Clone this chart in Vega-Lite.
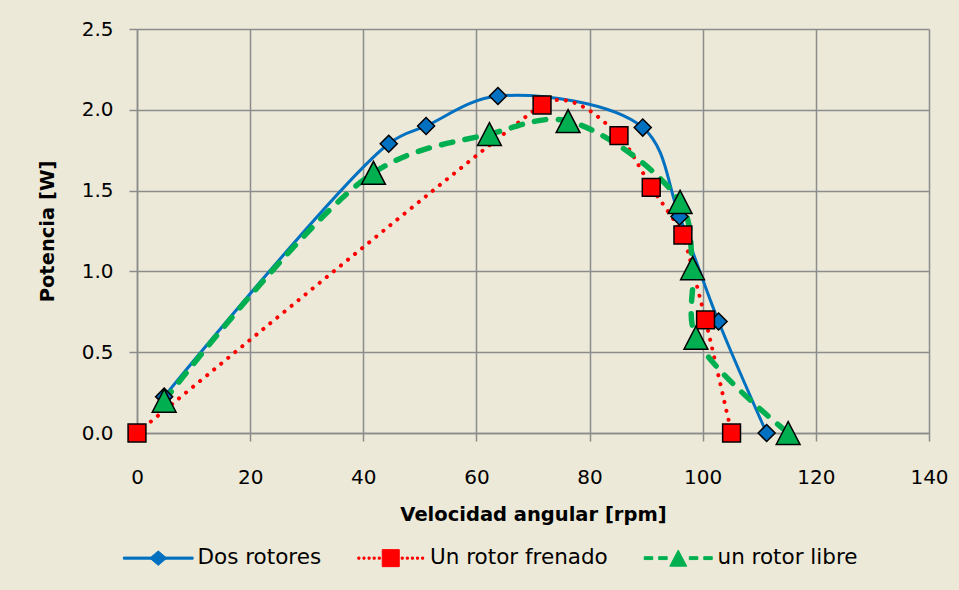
{
  "$schema": "https://vega.github.io/schema/vega-lite/v6.json",
  "width": 792,
  "height": 404,
  "autosize": "none",
  "padding": {"left": 137, "top": 29, "right": 30, "bottom": 157},
  "background": "#ECE9D8",
  "data": {
    "values": [
      {"series": "Dos rotores", "rpm": 4.8, "P": 0.225},
      {"series": "Dos rotores", "rpm": 44.5, "P": 1.79},
      {"series": "Dos rotores", "rpm": 51.1, "P": 1.9},
      {"series": "Dos rotores", "rpm": 63.8, "P": 2.085},
      {"series": "Dos rotores", "rpm": 89.4, "P": 1.89},
      {"series": "Dos rotores", "rpm": 95.9, "P": 1.34},
      {"series": "Dos rotores", "rpm": 102.8, "P": 0.69},
      {"series": "Dos rotores", "rpm": 111.3, "P": 0.0},
      {"series": "Un rotor frenado", "rpm": 0, "P": 0.0},
      {"series": "Un rotor frenado", "rpm": 71.6, "P": 2.03},
      {"series": "Un rotor frenado", "rpm": 85.2, "P": 1.84},
      {"series": "Un rotor frenado", "rpm": 90.9, "P": 1.52},
      {"series": "Un rotor frenado", "rpm": 96.5, "P": 1.225},
      {"series": "Un rotor frenado", "rpm": 100.5, "P": 0.7},
      {"series": "Un rotor frenado", "rpm": 105.1, "P": 0.0},
      {"series": "un rotor libre", "rpm": 4.8, "P": 0.2},
      {"series": "un rotor libre", "rpm": 41.8, "P": 1.61},
      {"series": "un rotor libre", "rpm": 62.3, "P": 1.85},
      {"series": "un rotor libre", "rpm": 76.2, "P": 1.93},
      {"series": "un rotor libre", "rpm": 96.0, "P": 1.43},
      {"series": "un rotor libre", "rpm": 98.2, "P": 1.02},
      {"series": "un rotor libre", "rpm": 98.8, "P": 0.59},
      {"series": "un rotor libre", "rpm": 115.1, "P": 0.0}
    ]
  },
  "encoding": {
    "x": {
      "field": "rpm", "type": "quantitative",
      "scale": {"domain": [0, 140], "nice": false, "zero": false},
      "axis": {
        "title": "Velocidad angular [rpm]",
        "values": [0, 20, 40, 60, 80, 100, 120, 140],
        "labelPadding": 26,
        "titlePadding": 18,
        "labelFlush": false,
        "labelOverlap": false
      }
    },
    "y": {
      "field": "P", "type": "quantitative",
      "scale": {"domain": [0, 2.5], "nice": false, "zero": false},
      "axis": {
        "title": "Potencia [W]",
        "values": [0, 0.5, 1, 1.5, 2, 2.5],
        "format": ".1f",
        "labelPadding": 16,
        "titlePadding": 24,
        "labelOverlap": false
      }
    }
  },
  "layer": [
    {
      "transform": [{"filter": "datum.series === 'Dos rotores'"}],
      "mark": {"type": "line", "interpolate": "catmull-rom", "strokeWidth": 3, "strokeCap": "round", "strokeJoin": "round"},
      "encoding": {
        "color": {
          "field": "series", "type": "nominal",
          "scale": {"domain": ["Dos rotores", "Un rotor frenado", "un rotor libre"], "range": ["#0070C0", "#FF0000", "#00B050"]},
          "legend": {
            "title": null,
            "orient": "none",
            "direction": "horizontal",
            "legendX": 10.5,
            "legendY": 518,
            "padding": 0,
            "symbolSize": 289,
            "labelOffset": 28.5,
            "columnPadding": 33.5,
            "labelFont": "DejaVu Sans",
            "labelFontSize": 21.5,
            "labelColor": "#000000",
            "labelLimit": 400,
            "encode": {
              "symbols": {
                "update": {
                  "shape": {"signal": "datum.value === 'Dos rotores' ? 'M-4.1,-0.12L4.1,-0.12L4.1,0.12L-4.1,0.12ZM0,-0.85L1,0L0,0.85L-1,0Z' : datum.value === 'Un rotor frenado' ? 'M-3.87,-0.12L-3.63,-0.12L-3.63,0.12L-3.87,0.12ZM-3.27,-0.12L-3.03,-0.12L-3.03,0.12L-3.27,0.12ZM-2.67,-0.12L-2.43,-0.12L-2.43,0.12L-2.67,0.12ZM-2.07,-0.12L-1.83,-0.12L-1.83,0.12L-2.07,0.12ZM-1.47,-0.12L-1.23,-0.12L-1.23,0.12L-1.47,0.12ZM1.23,-0.12L1.47,-0.12L1.47,0.12L1.23,0.12ZM1.83,-0.12L2.07,-0.12L2.07,0.12L1.83,0.12ZM2.43,-0.12L2.67,-0.12L2.67,0.12L2.43,0.12ZM3.03,-0.12L3.27,-0.12L3.27,0.12L3.03,0.12ZM3.63,-0.12L3.87,-0.12L3.87,0.12L3.63,0.12ZM-1,-1L1,-1L1,1L-1,1Z' : 'M-4,-0.17L-3,-0.17L-3,0.17L-4,0.17ZM-2.3,-0.17L-1.3,-0.17L-1.3,0.17L-2.3,0.17ZM1.3,-0.17L2.3,-0.17L2.3,0.17L1.3,0.17ZM3,-0.17L4,-0.17L4,0.17L3,0.17ZM0,-0.95L1,0.95L-1,0.95Z'"},
                  "fill": {"scale": "color", "field": "value"},
                  "stroke": {"scale": "color", "field": "value"},
                  "strokeWidth": {"value": 1},
                  "opacity": {"value": 1}
                }
              }
            }
          }
        }
      }
    },
    {
      "transform": [{"filter": "datum.series === 'Un rotor frenado'"}],
      "mark": {"type": "line", "interpolate": "cardinal", "tension": 0.6, "strokeWidth": 4, "strokeDash": [0.1, 9], "strokeCap": "round", "strokeJoin": "round"},
      "encoding": {
        "color": {
          "field": "series", "type": "nominal",
          "scale": {"domain": ["Dos rotores", "Un rotor frenado", "un rotor libre"], "range": ["#0070C0", "#FF0000", "#00B050"]}
        }
      }
    },
    {
      "transform": [{"filter": "datum.series === 'un rotor libre'"}],
      "mark": {"type": "line", "interpolate": "catmull-rom", "strokeWidth": 5.5, "strokeDash": [11.5, 12.5], "strokeCap": "round", "strokeJoin": "round"},
      "encoding": {
        "color": {
          "field": "series", "type": "nominal",
          "scale": {"domain": ["Dos rotores", "Un rotor frenado", "un rotor libre"], "range": ["#0070C0", "#FF0000", "#00B050"]}
        }
      }
    },
    {
      "transform": [{"filter": "datum.series === 'Dos rotores'"}],
      "mark": {"type": "point", "shape": "M0,-1L1,0L0,1L-1,0Z", "filled": true, "fill": "#0070C0", "stroke": "#000000", "strokeWidth": 1.5, "opacity": 1, "size": 289}
    },
    {
      "transform": [{"filter": "datum.series === 'Un rotor frenado'"}],
      "mark": {"type": "point", "shape": "M-1.05,-1.05L1.05,-1.05L1.05,1.05L-1.05,1.05Z", "filled": true, "fill": "#FF0000", "stroke": "#000000", "strokeWidth": 1.5, "opacity": 1, "size": 289}
    },
    {
      "transform": [{"filter": "datum.series === 'un rotor libre'"}],
      "mark": {"type": "point", "shape": "M0,-1.35L1.4,1.35L-1.4,1.35Z", "filled": true, "fill": "#00B050", "stroke": "#000000", "strokeWidth": 1.5, "opacity": 1, "size": 289}
    }
  ],
  "config": {
    "view": {"stroke": null},
    "font": "DejaVu Sans",
    "axis": {
      "labelFont": "DejaVu Sans",
      "labelFontSize": 20,
      "labelColor": "#000000",
      "titleFont": "DejaVu Sans",
      "titleFontSize": 19.5,
      "titleFontWeight": "bold",
      "titleColor": "#000000",
      "grid": true,
      "gridColor": "#8C8C8C",
      "gridWidth": 1.5,
      "domainColor": "#8C8C8C",
      "domainWidth": 1.5,
      "tickColor": "#8C8C8C",
      "tickWidth": 1.5,
      "tickSize": 8
    }
  }
}
